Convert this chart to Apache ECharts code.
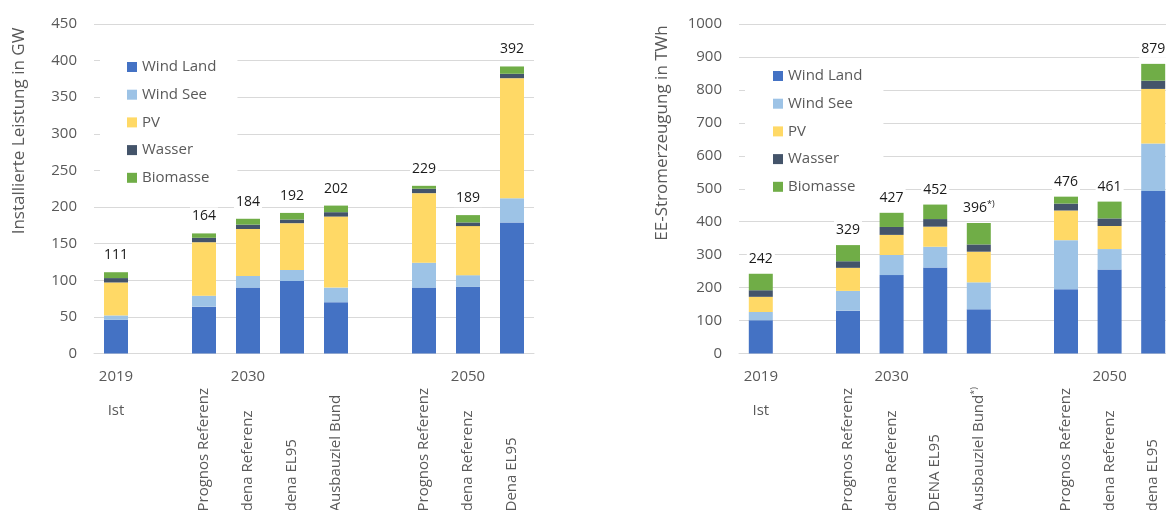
<!DOCTYPE html>
<html>
<head>
<meta charset="utf-8">
<script src="https://cdn.jsdelivr.net/npm/echarts@6/dist/echarts.min.js"></script>
<style>
  html, body { margin: 0; padding: 0; background: #fff; }
  #chart { width: 1166px; height: 510px; }
</style>
</head>
<body>
<div id="chart"></div>
<script>
// Energy sources (stack order from bottom to top) and their colours
const seriesNames = ['Wind Land', 'Wind See', 'PV', 'Wasser', 'Biomasse'];
const seriesColors = ['#4472C4', '#9DC3E6', '#FFD966', '#44546A', '#70AD47'];

// Row of year labels under each panel ("Ist" belongs to 2019)
const yearLabels = ['2019\n\nIst', '', '', '2030', '', '', '', '', '2050', ''];

// Installed capacity in GW
const capScenarios = ['', '', 'Prognos Referenz', 'dena Referenz', 'dena EL95', 'Ausbauziel Bund', '', 'Prognos Referenz', 'dena Referenz', 'Dena EL95'];
const capWindLand = [46, null, 64, 90, 99, 70, null, 90, 91, 179];
const capWindSee  = [6, null, 15, 16, 15, 20, null, 34, 16, 33];
const capPV       = [45, null, 73, 64, 64, 97, null, 95, 67, 164];
const capWasser   = [6, null, 6, 6, 5, 6, null, 6, 5, 6];
const capBiomasse = [8, null, 6, 8, 9, 9, null, 4, 10, 10];
const capNotes    = ['', '', '', '', '', '', '', '', '', ''];

// Renewable electricity generation in TWh
const genScenarios = ['', '', 'Prognos Referenz', 'dena Referenz', 'DENA EL95', 'Ausbauziel Bund*)', '', 'Prognos Referenz', 'dena Referenz', 'dena EL95'];
const genWindLand = [101, null, 130, 238, 261, 134, null, 195, 255, 493];
const genWindSee  = [25, null, 60, 61, 63, 82, null, 149, 62, 144];
const genPV       = [46, null, 70, 61, 61, 93, null, 90, 70, 166];
const genWasser   = [20, null, 20, 24, 23, 22, null, 21, 23, 25];
const genBiomasse = [50, null, 49, 43, 44, 65, null, 21, 51, 51];
const genNotes    = ['', '', '', '', '', '*)', '', '', '', ''];

const GREY = '#595959';
const GRID_LINE = '#D9D9D9';
const FONT = 'Open Sans';

const panels = [
  {
    left: 94, width: 440, max: 450, interval: 50,
    scenarios: capScenarios,
    stacks: [capWindLand, capWindSee, capPV, capWasser, capBiomasse],
    notes: capNotes, labelDistance: 8,
    legendLeft: 100, legendTop: 50, legendPadding: [9, 21, 5, 27]
  },
  {
    left: 739, width: 436, max: 1000, interval: 100,
    scenarios: genScenarios,
    stacks: [genWindLand, genWindSee, genPV, genWasser, genBiomasse],
    notes: genNotes, labelDistance: 6,
    legendLeft: 745, legendTop: 59, legendPadding: [9, 21, 5, 28]
  }
];

const grid = [], xAxis = [], yAxis = [], series = [], legend = [];

panels.forEach((p, gi) => {
  grid.push({
    left: p.left, width: p.width, top: 24, height: 329.5,
    containLabel: false, outerBoundsMode: 'none'
  });

  // scenario names, rotated and bottom-aligned
  xAxis.push({
    type: 'category', gridIndex: gi, position: 'bottom', data: p.scenarios,
    axisLine: { lineStyle: { color: GRID_LINE, width: 1 } },
    axisTick: { show: false },
    axisLabel: {
      interval: 0, rotate: 90, align: 'left', verticalAlign: 'middle', margin: 158,
      color: GREY, fontSize: 15, fontFamily: FONT,
      formatter: v => v.endsWith('*)') ? '{a|' + v.slice(0, -2) + '}{s|*)}' : v,
      rich: {
        a: { color: GREY, fontSize: 15, fontFamily: FONT, lineHeight: 18 },
        s: { color: GREY, fontSize: 9, fontFamily: FONT, lineHeight: 18, verticalAlign: 'top' }
      }
    }
  });
  // years row
  xAxis.push({
    type: 'category', gridIndex: gi, position: 'bottom', data: yearLabels,
    axisLine: { show: false }, axisTick: { show: false },
    axisLabel: { interval: 0, margin: 15, color: GREY, fontSize: 15, fontFamily: FONT, lineHeight: 17 }
  });

  yAxis.push({
    type: 'value', gridIndex: gi, min: 0, max: p.max, interval: p.interval,
    axisLine: { show: false }, axisTick: { show: false },
    axisLabel: { color: GREY, fontSize: 15, fontFamily: FONT, margin: 17, formatter: v => String(v) },
    splitLine: { lineStyle: { color: GRID_LINE, width: 1 } }
  });

  const totals = p.scenarios.map((_, i) => {
    const vals = p.stacks.map(s => s[i]);
    return vals.every(v => v == null) ? null : vals.reduce((a, b) => a + (b || 0), 0);
  });

  p.stacks.forEach((data, si) => {
    const s = {
      name: seriesNames[si], type: 'bar', stack: 'total' + gi,
      xAxisIndex: gi * 2, yAxisIndex: gi, barWidth: 24, z: 3,
      itemStyle: { color: seriesColors[si] },
      emphasis: { disabled: true },
      data: data
    };
    if (si === p.stacks.length - 1) {
      s.label = {
        show: true, position: 'top', distance: p.labelDistance,
        backgroundColor: '#fff', padding: [1, 2],
        formatter: prm => '{v|' + totals[prm.dataIndex] + '}' + (p.notes[prm.dataIndex] ? '{s|' + p.notes[prm.dataIndex] + '}' : ''),
        rich: {
          v: { color: '#1a1a1a', fontSize: 14, fontFamily: FONT, lineHeight: 16 },
          s: { color: '#1a1a1a', fontSize: 9, fontFamily: FONT, lineHeight: 16, verticalAlign: 'top' }
        }
      };
    }
    series.push(s);
  });

  legend.push({
    data: seriesNames, orient: 'vertical', left: p.legendLeft, top: p.legendTop,
    padding: p.legendPadding, backgroundColor: '#fff', z: 1,
    icon: 'rect', itemWidth: 10, itemHeight: 10, itemGap: 11.7, itemTextGap: 5,
    selectedMode: false,
    textStyle: { color: GREY, fontSize: 15, fontFamily: FONT, lineHeight: 16 }
  });
});

const chart = echarts.init(document.getElementById('chart'), null, { renderer: 'canvas' });
chart.setOption({
  animation: false,
  backgroundColor: '#fff',
  textStyle: { fontFamily: FONT },
  grid, xAxis, yAxis, series, legend,
  graphic: [
    {
      type: 'text', x: 19, y: 131, rotation: Math.PI / 2,
      style: { text: 'Installierte Leistung in GW', fill: GREY, fontSize: 17, fontFamily: FONT, align: 'center', verticalAlign: 'middle' }
    },
    {
      type: 'text', x: 662.5, y: 133, rotation: Math.PI / 2,
      style: { text: 'EE-Stromerzeugung in TWh', fill: GREY, fontSize: 17, fontFamily: FONT, align: 'center', verticalAlign: 'middle' }
    }
  ]
});
</script>
</body>
</html>
